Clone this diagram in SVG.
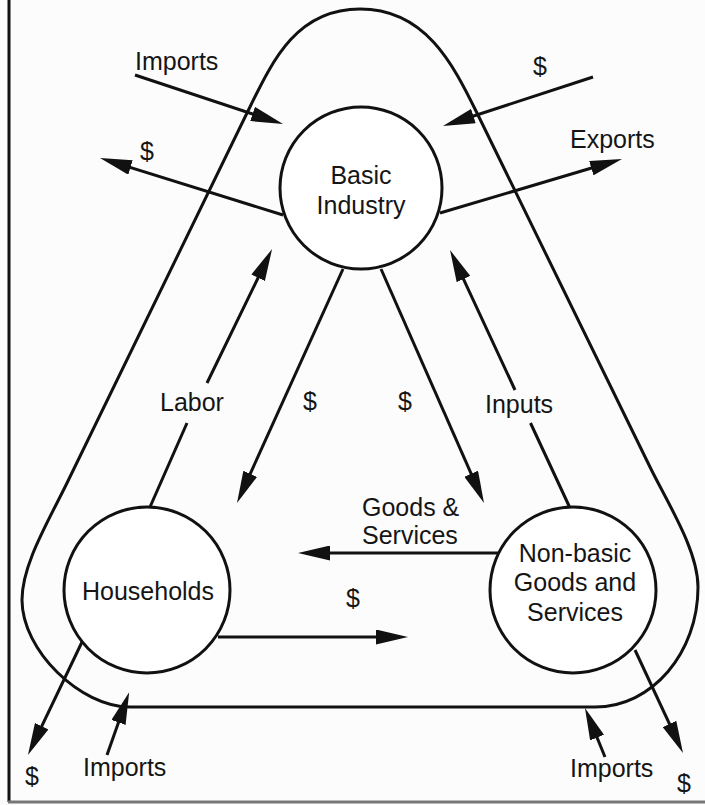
<svg xmlns="http://www.w3.org/2000/svg" width="705" height="805" viewBox="0 0 705 805">
<style>
.ln{fill:none;stroke:#111;stroke-width:3}
.arr{fill:none;stroke:#111;stroke-width:3;marker-end:url(#ah)}
.nd{fill:#fff;stroke:#111;stroke-width:3}
text{font-family:"Liberation Sans",Arial,Helvetica,sans-serif;font-size:25px;fill:#151515}
.c{text-anchor:middle}
</style>
<defs>
<marker id="ah" viewBox="0 0 32 15" refX="24" refY="7.5" markerWidth="32" markerHeight="15" markerUnits="userSpaceOnUse" orient="auto">
<path d="M0,0 L32,7.5 L0,15 z" fill="#111"/>
</marker>
</defs>
<rect width="705" height="805" fill="#fcfcfc"/>
<g id="frame">
<line x1="9" y1="0" x2="9" y2="802" stroke="#111" stroke-width="3"/>
<line x1="8" y1="802" x2="705" y2="802" stroke="#777" stroke-width="3"/>
</g>
<g id="region-boundary">
<path class="ln" d="M360,9 C295,9 271.5,63 247,113 L67,483 C47.4,523 22,565 22,600 C22,650 80,707 130,707 L595,707 C652,707 698,653 698,587 C698,550 667,502 650,467 L477,113 C452.5,63 425,9 360,9 Z"/>
</g>
<g id="connectors">
<path class="arr" d="M135,75 L275.4,121.5"/>
<path class="arr" d="M283,215 L107.6,160.4"/>
<path class="arr" d="M593,77 L450.6,123.5"/>
<path class="arr" d="M440,213 L614.3,161.3"/>
<path class="arr" d="M150,507 L187,423 M207,383 L268.6,256.2"/>
<path class="arr" d="M343,269 L240.3,495.7"/>
<path class="arr" d="M381,269 L480.8,495.7"/>
<path class="arr" d="M570,508 L530.5,423 M515,390 L453.4,257.3"/>
<path class="arr" d="M498,553 L306,553"/>
<path class="arr" d="M218,637 L400,637"/>
<path class="arr" d="M82,642 L31.4,747.8"/>
<path class="arr" d="M107,755 L126.5,699.8"/>
<path class="arr" d="M635,650 L679.6,745.7"/>
<path class="arr" d="M605,757 L588,715.4"/>
</g>
<g id="labels">
<text x="135" y="70">Imports</text>
<text x="140" y="160">$</text>
<text x="533" y="75">$</text>
<text x="570" y="148">Exports</text>
<text x="160" y="411">Labor</text>
<text x="303" y="410">$</text>
<text x="398" y="410">$</text>
<text x="485" y="413">Inputs</text>
<text x="362" y="516">Goods &amp;</text>
<text x="362" y="544">Services</text>
<text x="346" y="607">$</text>
<text x="25" y="785">$</text>
<text x="83" y="776">Imports</text>
<text x="570" y="777">Imports</text>
<text x="677" y="792">$</text>
</g>
<g id="basic-industry">
<circle class="nd" cx="361" cy="188" r="81"/>
<text class="c" x="361" y="184">Basic</text>
<text class="c" x="361" y="214">Industry</text>
</g>
<g id="households">
<circle class="nd" cx="147" cy="590" r="83"/>
<text class="c" x="148" y="600">Households</text>
</g>
<g id="non-basic">
<circle class="nd" cx="573" cy="590" r="83"/>
<text class="c" x="575" y="562">Non-basic</text>
<text class="c" x="575" y="591">Goods and</text>
<text class="c" x="575" y="621">Services</text>
</g>
</svg>
